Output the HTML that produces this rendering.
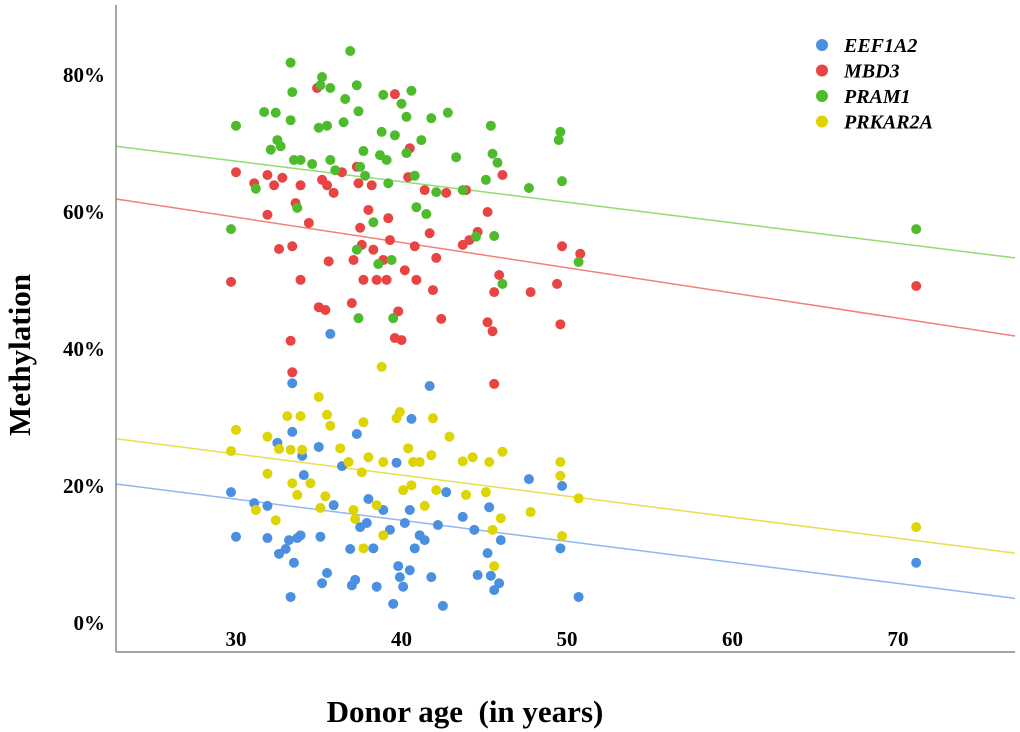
<!DOCTYPE html>
<html><head><meta charset="utf-8"><style>
html,body{margin:0;padding:0;background:#fff;}
svg{display:block;font-family:"Liberation Serif",serif;}
</style></head><body>
<svg id="chart" width="1020" height="732" xmlns="http://www.w3.org/2000/svg">
<g id="marks"></g>
<line x1="116" y1="5" x2="116" y2="652" stroke="#888" stroke-width="1.5"/>
<line x1="116" y1="652" x2="1015" y2="652" stroke="#888" stroke-width="1.5"/>
<g id="ticks"></g>
<text x="30" y="355" transform="rotate(-90 30 355)" text-anchor="middle" font-size="31" font-weight="bold">Methylation</text>
<text x="465" y="722" text-anchor="middle" font-size="31" font-weight="bold" xml:space="preserve">Donor age  (in years)</text>
<g id="legend"></g>
</svg>
<script>
const seriesNames=["EEF1A2","MBD3","PRAM1","PRKAR2A"];
const dotColors=["#4a8fe0","#e84444","#4dbb2c","#ddd400"];
const lineColors=["#8fb7ee","#f28078","#92da72","#e6e04c"];
const xTicks=[30,40,50,60,70];
const yTicks=[0,20,40,60,80];
const fitStart=[20.3,61.9,69.6,26.9];
const fitEnd=[3.6,41.9,53.3,10.2];
const fitAges=[22.75,77.07];
const blueAge=[29.7,30.0,31.1,31.9,31.9,32.5,32.6,33.0,33.2,33.3,33.4,33.4,33.5,33.7,33.9,34.0,34.1,35.0,35.1,35.2,35.5,35.7,35.9,36.4,36.9,37.0,37.2,37.3,37.5,37.9,38.0,38.3,38.5,38.9,39.3,39.5,39.7,39.8,39.9,40.1,40.2,40.5,40.6,40.5,40.8,41.1,41.4,41.7,41.8,42.2,42.5,42.7,43.7,44.4,44.6,45.2,45.3,45.4,45.6,45.9,46.0,47.7,49.6,49.7,50.7,71.1];
const blueVal=[19.1,12.6,17.5,17.1,12.4,26.3,10.1,10.8,12.1,3.8,35.0,27.9,8.8,12.4,12.8,24.4,21.6,25.7,12.6,5.8,7.3,42.2,17.2,22.9,10.8,5.5,6.3,27.6,14.0,14.6,18.1,10.9,5.3,16.5,13.6,2.8,23.4,8.3,6.7,5.3,14.6,16.5,29.8,7.7,10.9,12.8,12.1,34.6,6.7,14.3,2.5,19.1,15.5,13.6,7.0,10.2,16.9,6.9,4.8,5.8,12.1,21.0,10.9,20.0,3.8,8.8];
const redAge=[29.7,30.0,31.1,31.9,31.9,32.3,32.6,32.8,33.3,33.4,33.4,33.6,33.9,33.9,34.4,34.9,35.0,35.2,35.4,35.5,35.6,35.9,36.4,37.0,37.1,37.3,37.4,37.5,37.6,37.7,38.0,38.2,38.3,38.5,38.9,39.1,39.2,39.3,39.6,39.6,39.8,40.0,40.2,40.4,40.5,40.8,40.9,41.4,41.7,41.9,42.1,42.4,42.7,43.7,43.9,44.1,44.6,45.2,45.2,45.5,45.6,45.6,45.9,46.1,47.8,49.4,49.6,49.7,50.8,71.1];
const redVal=[49.8,65.8,64.2,65.4,59.6,63.9,54.6,65.0,41.2,36.6,55.0,61.3,63.9,50.1,58.4,78.1,46.1,64.7,45.7,63.9,52.8,62.8,65.8,46.7,53.0,66.6,64.2,57.7,55.2,50.1,60.3,63.9,54.5,50.1,53.0,50.1,59.1,55.9,41.6,77.2,45.5,41.3,51.5,65.1,69.3,55.0,50.1,63.2,56.9,48.6,53.3,44.4,62.8,55.2,63.2,55.9,57.1,43.9,60.0,42.6,34.9,48.3,50.8,65.4,48.3,49.5,43.6,55.0,53.9,49.2];
const greenAge=[29.7,30.0,31.2,31.7,32.1,32.4,32.5,32.7,33.3,33.4,33.3,33.5,33.7,33.9,34.6,35.0,35.2,35.1,35.5,35.7,35.7,36.0,36.5,36.6,36.9,37.3,37.4,37.5,37.3,37.4,37.7,37.8,38.3,38.6,38.7,38.8,38.9,39.1,39.2,39.4,39.5,39.6,40.0,40.3,40.6,40.3,40.8,40.9,41.2,41.5,41.8,42.1,42.8,43.3,43.7,44.5,45.1,45.4,45.5,45.6,45.8,46.1,47.7,49.5,49.6,49.7,50.7,71.1];
const greenVal=[57.5,72.6,63.4,74.6,69.1,74.5,70.5,69.6,81.8,77.5,73.4,67.6,60.6,67.6,67.0,72.3,79.7,78.5,72.6,67.6,78.1,66.1,73.1,76.5,83.5,78.5,74.7,66.6,54.5,44.5,68.9,65.3,58.5,52.4,68.3,71.7,77.1,67.6,64.2,53.0,44.5,71.2,75.8,73.9,77.7,68.6,65.3,60.7,70.5,59.7,73.7,62.9,74.5,68.0,63.2,56.4,64.7,72.6,68.5,56.5,67.2,49.5,63.5,70.5,71.7,64.5,52.7,57.5];
const yellowAge=[29.7,30.0,31.2,31.9,31.9,32.4,32.6,33.1,33.3,33.4,33.7,33.9,34.0,34.5,35.0,35.1,35.4,35.5,35.7,36.3,36.8,37.1,37.2,37.6,37.7,37.7,38.0,38.5,38.8,38.9,38.9,39.7,39.9,40.1,40.4,40.6,40.7,41.1,41.4,41.8,41.9,42.1,42.9,43.7,43.9,44.3,45.1,45.3,45.5,45.6,46.0,46.1,47.8,49.6,49.6,49.7,50.7,71.1];
const yellowVal=[25.1,28.2,16.5,27.2,21.8,15.0,25.4,30.2,25.3,20.4,18.7,30.2,25.3,20.4,33.0,16.8,18.5,30.4,28.8,25.5,23.5,16.5,15.2,22.0,29.3,10.9,24.2,17.2,37.4,23.5,12.8,29.9,30.8,19.4,25.5,20.1,23.5,23.5,17.1,24.5,29.9,19.4,27.2,23.6,18.7,24.2,19.1,23.5,13.6,8.3,15.3,25.0,16.2,23.5,21.5,12.7,18.2,14.0];
const ages=[blueAge,redAge,greenAge,yellowAge];
const vals=[blueVal,redVal,greenVal,yellowVal];

const NS="http://www.w3.org/2000/svg";
const xS=a=>236+(a-30)*16.55;
const yS=v=>623-v*6.85;
function mk(tag,attrs,parent){const e=document.createElementNS(NS,tag);for(const k in attrs)e.setAttribute(k,attrs[k]);parent.appendChild(e);return e;}
const marks=document.getElementById('marks');
const ticks=document.getElementById('ticks');
const legend=document.getElementById('legend');

for(let s=0;s<4;s++){
  const ln=mk('line',{x1:xS(fitAges[0]),y1:yS(fitStart[s]),x2:xS(fitAges[1]),y2:yS(fitEnd[s]),stroke:lineColors[s],'stroke-width':1.5},marks);
  
  
}
const order=[0,3,1,2];
for(const s of order){
  for(let i=0;i<ages[s].length;i++){
    const c=mk('circle',{cx:xS(ages[s][i]),cy:yS(vals[s][i]),r:5,fill:dotColors[s]},marks);
    
    
  }
}
for(const t of xTicks){
  const e=mk('text',{x:xS(t),y:646,'text-anchor':'middle','font-size':21,'font-weight':'bold'},ticks);
  e.textContent=t;
  
  
}
for(const t of yTicks){
  const e=mk('text',{x:105,y:yS(t)+7,'text-anchor':'end','font-size':21,'font-weight':'bold'},ticks);
  e.textContent=t+'%';
  
  
}
for(let s=0;s<4;s++){
  const y=45+s*25.5;
  const c=mk('circle',{cx:822,cy:y,r:6,fill:dotColors[s]},legend);
  
  
  const t=mk('text',{x:844,y:y+7,'font-size':20,'font-weight':'bold','font-style':'italic'},legend);
  t.textContent=seriesNames[s];
  
  
}
</script>
</body></html>
